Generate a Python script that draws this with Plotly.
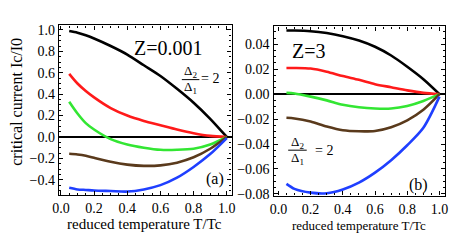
import plotly.graph_objects as go

# ---------------- data ----------------
T_a = [0.05, 0.1, 0.15, 0.2, 0.3, 0.4, 0.5, 0.6, 0.7, 0.8, 0.9, 1.0]
a_black = [0.99, 0.975, 0.95, 0.92, 0.85, 0.77, 0.67, 0.57, 0.45, 0.32, 0.17, 0.0]
a_red = [0.59, 0.50, 0.43, 0.37, 0.27, 0.20, 0.15, 0.11, 0.07, 0.035, 0.01, 0.0]
a_green = [0.33, 0.22, 0.13, 0.07, -0.02, -0.07, -0.10, -0.12, -0.12, -0.11, -0.07, 0.0]
a_brown = [-0.157, -0.163, -0.175, -0.195, -0.232, -0.258, -0.27, -0.265, -0.24, -0.19, -0.11, 0.0]
a_blue = [-0.475, -0.49, -0.495, -0.50, -0.505, -0.51, -0.49, -0.45, -0.38, -0.28, -0.16, -0.01]

T_b = [0.05, 0.1, 0.2, 0.3, 0.4, 0.5, 0.6, 0.7, 0.8, 0.9, 1.0]
b_black = [0.051, 0.051, 0.0505, 0.049, 0.0465, 0.043, 0.038, 0.031, 0.022, 0.012, 0.0]
b_red = [0.021, 0.021, 0.0205, 0.018, 0.0145, 0.0115, 0.008, 0.0055, 0.003, 0.001, 0.0]
b_green = [0.001, 0.0005, -0.002, -0.005, -0.0085, -0.0105, -0.0115, -0.0115, -0.0095, -0.0055, 0.0]
b_brown = [-0.019, -0.0195, -0.022, -0.026, -0.029, -0.0298, -0.0295, -0.0265, -0.021, -0.0125, 0.0]
b_blue = [-0.072, -0.076, -0.079, -0.0795, -0.0765, -0.071, -0.063, -0.053, -0.041, -0.027, -0.002]

colors = ["#000000", "#ff1a1a", "#33e633", "#5a3a1c", "#1f3fff"]

x_ticks = [0.0, 0.2, 0.4, 0.6, 0.8, 1.0]
ya_ticks = [-0.4, -0.2, 0.0, 0.2, 0.4, 0.6, 0.8, 1.0]
yb_ticks = [-0.08, -0.06, -0.04, -0.02, 0.0, 0.02, 0.04]

SERIF = '"Liberation Serif", "Times New Roman", Times, "DejaVu Serif", serif'
OFF = 8  # default body margin of the page
W, H = 460 - OFF, 249 - OFF

fig = go.Figure()
for ys, c in zip([a_black, a_red, a_green, a_brown, a_blue], colors):
    fig.add_trace(go.Scatter(x=T_a, y=ys, mode="lines", line=dict(color=c, width=2.6, shape="spline", smoothing=0.8),
                             xaxis="x", yaxis="y", showlegend=False, hoverinfo="skip"))
for ys, c in zip([b_black, b_red, b_green, b_brown, b_blue], colors):
    fig.add_trace(go.Scatter(x=T_b, y=ys, mode="lines", line=dict(color=c, width=2.6, shape="spline", smoothing=0.8),
                             xaxis="x2", yaxis="y2", showlegend=False, hoverinfo="skip"))

def px(x):
    return (x - OFF) / W

def py(y):
    return 1 - (y - OFF) / H

common = dict(showline=True, linecolor="black", linewidth=1.3, mirror="ticks", ticks="inside",
              ticklen=4, tickcolor="black", showgrid=False,
              tickfont=dict(family=SERIF, size=14, color="black"))

fig.update_layout(
    width=W, height=H,
    margin=dict(l=0, r=0, t=0, b=0),
    paper_bgcolor="white", plot_bgcolor="white",
    font=dict(family=SERIF, color="black"),
    xaxis=dict(domain=[px(53), px(230)], range=[-0.012, 1.029], tickvals=x_ticks, tickformat=".1f",
               zeroline=False, anchor="y",
               minor=dict(ticks="inside", ticklen=2, dtick=0.05, tickcolor="black"), **common),
    yaxis=dict(domain=[py(199), py(24)], range=[-0.539, 1.042], tickvals=ya_ticks, tickformat=".1f",
               zeroline=True, zerolinecolor="black", zerolinewidth=2, anchor="x",
               minor=dict(ticks="inside", ticklen=2, dtick=0.05, tickcolor="black"), **common),
    xaxis2=dict(domain=[px(273), px(449)], range=[-0.030, 1.036], tickvals=x_ticks, tickformat=".1f",
                zeroline=False, anchor="y2",
                minor=dict(ticks="inside", ticklen=2, dtick=0.05, tickcolor="black"), **common),
    yaxis2=dict(domain=[py(200), py(25)], range=[-0.0814, 0.0543], tickvals=yb_ticks, tickformat=".2f",
                zeroline=True, zerolinecolor="black", zerolinewidth=2, anchor="x2",
                minor=dict(ticks="inside", ticklen=2, dtick=0.005, tickcolor="black"), **common),
)

def ann(text, x, y, size, **kw):
    fig.add_annotation(text=text, x=px(x), y=py(y), xref="paper", yref="paper", showarrow=False,
                       font=dict(family=SERIF, size=size, color="black"), xanchor="center", yanchor="middle", **kw)

ann("critical current Ic/I0", 10, 103, 16, textangle=-90)
ann("reduced temperature T/Tc", 141, 229, 15)
ann("reduced temperature T/Tc", 361, 231, 13)
ann("Z=0.001", 165, 47, 20)
ann("Z=3", 309, 50, 20)
ann("(a)", 213, 183, 16)
ann("(b)", 422, 189, 16)
# fractions
ann("Δ<sub>2</sub>", 188, 72, 13)
ann("Δ<sub>1</sub>", 188, 88, 13)
ann("= 2", 208, 79, 14)
ann("Δ<sub>2</sub>", 298, 145, 13)
ann("Δ<sub>1</sub>", 298, 162, 13)
ann("= 2", 325, 153, 14)
fig.add_shape(type="line", xref="paper", yref="paper", x0=px(179), x1=px(197), y0=py(80), y1=py(80),
              line=dict(color="black", width=1))
fig.add_shape(type="line", xref="paper", yref="paper", x0=px(288), x1=px(307), y0=py(153), y1=py(153),
              line=dict(color="black", width=1))

fig.write_html("out.html")
